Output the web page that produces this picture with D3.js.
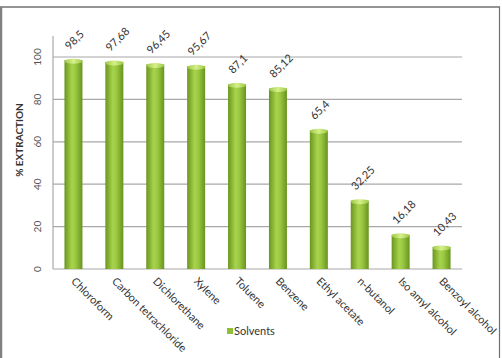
<!DOCTYPE html>
<html>
<head>
<meta charset="utf-8">
<script src="https://cdn.jsdelivr.net/npm/d3@7/dist/d3.min.js"></script>
<style>
  body { margin: 0; background: #fff; }
  svg { display: block; font-family: Lato, "Open Sans", sans-serif; }
</style>
</head>
<body>
<div id="chart"></div>
<script>
// data
var solvents = ["Chloroform", "Carbon tetrachloride", "Dichlorethane", "Xylene", "Toluene",
                "Benzene", "Ethyl acetate", "n-butanol", "Iso amyl alcohol", "Benzoyl alcohol"];
var extraction = [98.5, 97.68, 96.45, 95.67, 87.1, 85.12, 65.4, 32.25, 16.18, 10.43];
var valueLabels = ["98,5", "97,68", "96,45", "95,67", "87,1", "85,12", "65,4", "32,25", "16,18", "10,43"];
var yTicks = [0, 20, 40, 60, 80, 100];

var width = 502, height = 358;
var margin = { top: 57, right: 40, bottom: 89, left: 53 };

var svg = d3.select("#chart")
  .append("svg")
  .attr("width", width)
  .attr("height", height);

// bar gradient (cylinder look)
var defs = svg.append("defs");
var grad = defs.append("linearGradient").attr("id", "barGrad")
  .attr("x1", "0%").attr("x2", "100%").attr("y1", "0%").attr("y2", "0%");
grad.append("stop").attr("offset", "0%").attr("stop-color", "#6a9620");
grad.append("stop").attr("offset", "42%").attr("stop-color", "#a8d44c");
grad.append("stop").attr("offset", "62%").attr("stop-color", "#9ac842");
grad.append("stop").attr("offset", "100%").attr("stop-color", "#68941e");
var capGrad = defs.append("linearGradient").attr("id", "capGrad")
  .attr("x1", "0%").attr("x2", "100%");
capGrad.append("stop").attr("offset", "0%").attr("stop-color", "#9cc844");
capGrad.append("stop").attr("offset", "50%").attr("stop-color", "#d6f08c");
capGrad.append("stop").attr("offset", "100%").attr("stop-color", "#9cc844");

// frame
svg.append("line").attr("x1", 0).attr("x2", 500).attr("y1", 7).attr("y2", 7)
  .attr("stroke", "#707070").attr("stroke-width", 1.5);
svg.append("line").attr("x1", 1).attr("x2", 1).attr("y1", 7).attr("y2", height)
  .attr("stroke", "#808080").attr("stroke-width", 2.5);
svg.append("line").attr("x1", 499.5).attr("x2", 499.5).attr("y1", 7).attr("y2", height)
  .attr("stroke", "#707070").attr("stroke-width", 1.2);

var x = d3.scaleBand()
  .domain(solvents)
  .range([margin.left, width - margin.right])
  .paddingInner(0.56)
  .paddingOuter(0.28);

var y = d3.scaleLinear()
  .domain([0, 100])
  .range([height - margin.bottom, margin.top]);

// gridlines
svg.append("g")
  .selectAll("line")
  .data(yTicks)
  .join("line")
  .attr("x1", margin.left)
  .attr("x2", width - margin.right)
  .attr("y1", d => y(d))
  .attr("y2", d => y(d))
  .attr("stroke", "#a8a8a8")
  .attr("stroke-width", 1.2);

// y axis line
svg.append("line")
  .attr("x1", margin.left).attr("x2", margin.left)
  .attr("y1", 36).attr("y2", y(0))
  .attr("stroke", "#a8a8a8").attr("stroke-width", 1.2);

// y tick labels, rotated
svg.append("g")
  .selectAll("text")
  .data(yTicks)
  .join("text")
  .attr("transform", d => "translate(41," + y(d) + ") rotate(-90)")
  .attr("text-anchor", "middle")
  .attr("font-size", 10)
  .attr("fill", "#555")
  .text(d => d);

// y axis title
svg.append("text")
  .attr("transform", "translate(23,140) rotate(-90)")
  .attr("text-anchor", "middle")
  .attr("font-size", 10)
  .attr("font-weight", "bold")
  .attr("fill", "#333")
  .text("% EXTRACTION");

// bars
var bars = svg.append("g")
  .selectAll("g")
  .data(solvents)
  .join("g");

bars.append("rect")
  .attr("x", d => x(d))
  .attr("y", (d, i) => y(extraction[i]))
  .attr("width", x.bandwidth())
  .attr("height", (d, i) => y(0) - y(extraction[i]))
  .attr("fill", "url(#barGrad)");

bars.append("ellipse")
  .attr("cx", d => x(d) + x.bandwidth() / 2)
  .attr("cy", (d, i) => y(extraction[i]) + 1)
  .attr("rx", x.bandwidth() / 2)
  .attr("ry", 2.5)
  .attr("fill", "url(#capGrad)");

// value labels, rotated -45
svg.append("g")
  .selectAll("g")
  .data(solvents)
  .join("g")
  .attr("transform", (d, i) => "translate(" + (x(d) + x.bandwidth() / 2 - 4) + "," + (y(extraction[i]) - 10) + ")")
  .append("text")
  .attr("transform", "rotate(-45)")
  .attr("font-size", 11)
  .attr("fill", "#333")
  .text((d, i) => valueLabels[i]);

// category labels
svg.append("g")
  .selectAll("text")
  .data(solvents)
  .join("text")
  .attr("transform", d => "translate(" + (x(d) + x.bandwidth() / 2 - 3) + "," + (y(0) + 13) + ") rotate(45)")
  .attr("font-size", 11)
  .attr("fill", "#333")
  .text(d => d);

// legend
svg.append("rect")
  .attr("x", 227).attr("y", 328).attr("width", 6).attr("height", 6)
  .attr("fill", "#8fbf3a");
svg.append("text")
  .attr("x", 234).attr("y", 334.5)
  .attr("font-size", 11)
  .attr("fill", "#333")
  .text("Solvents");
</script>
</body>
</html>
